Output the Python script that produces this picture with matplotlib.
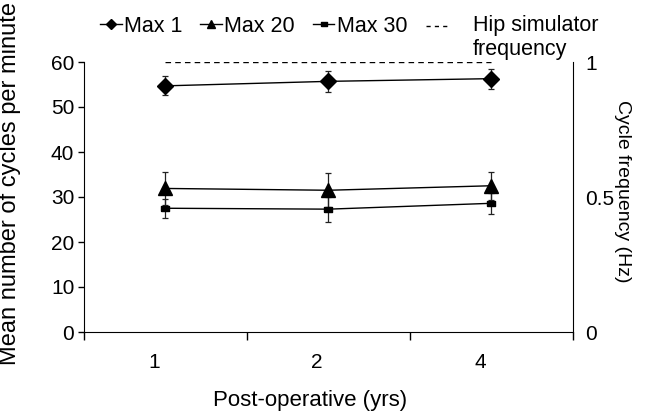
import matplotlib
matplotlib.use('agg')
import matplotlib.pyplot as plt
from matplotlib.lines import Line2D

plt.rcParams['font.family'] = ['Liberation Sans', 'DejaVu Sans']

years = ['1', '2', '4']
x_pos = [1, 2, 3]

max1 = [54.7, 55.7, 56.3]
max1_err = [2.1, 2.4, 2.2]
max20 = [31.9, 31.5, 32.5]
max20_err = [3.7, 3.8, 3.1]
max30 = [27.5, 27.3, 28.6]
max30_err = [2.1, 2.8, 2.4]
hip_freq = [1, 1, 1]

W, H = 649, 417
fig = plt.figure(figsize=(W / 100, H / 100), dpi=100)
ax = fig.add_axes([84 / W, (H - 332) / H, 489 / W, 270 / H])
ax2 = ax.twinx()

rect = [(-1, -0.6), (1, -0.6), (1, 0.6), (-1, 0.6), (-1, -0.6)]
kw = dict(color='black', lw=1.0, ecolor='#222222', elinewidth=0.9, capsize=2.2, capthick=0.9)
ax.errorbar(x_pos, max1, yerr=max1_err, marker='D', ms=8, **kw)
ax.errorbar(x_pos, max20, yerr=max20_err, marker='^', ms=9.5, **kw)
ax.errorbar(x_pos, max30, yerr=max30_err, marker=rect, ms=6, **kw)
ax2.plot(x_pos, hip_freq, color='black', lw=1.0, ls=(0, (4, 3)))

ax.set_xlim(0.5, 3.5)
ax.set_ylim(0, 60)
ax2.set_ylim(0, 1.0)

ax.set_yticks(range(0, 61, 10))
ax.tick_params(axis='y', direction='out', length=4, width=1, labelsize=15, pad=3)
ax.set_xticks([0.5, 1.5, 2.5, 3.5])
ax.set_xticklabels([])
ax.set_xticks([x - 0.07 for x in x_pos], minor=True)
ax.set_xticklabels(years, minor=True)
ax.tick_params(axis='x', which='major', direction='out', length=6, width=1)
ax.tick_params(axis='x', which='minor', length=0, labelsize=15, pad=15)

ax2.set_yticks([0, 0.5, 1])
ax2.set_yticklabels(['0', '0.5', '1'])
ax2.tick_params(axis='y', length=0, labelsize=15, pad=9)

for a in (ax, ax2):
    a.spines['top'].set_visible(False)
ax.spines['right'].set_visible(False)
ax2.spines['left'].set_visible(False)
ax2.spines['bottom'].set_visible(False)

ax.set_ylabel('Mean number of cycles per minute', fontsize=17)
ax.yaxis.set_label_coords(-0.128, 0.55)
fig.text(622 / W, 1 - 191 / H, 'Cycle frequency (Hz)', fontsize=14, rotation=-90,
         ha='center', va='center')
ax.set_xlabel('Post-operative (yrs)', fontsize=16)
ax.xaxis.set_label_coords(0.462, -0.215)

handles = [
    Line2D([], [], color='black', lw=1.0, marker='D', ms=5),
    Line2D([], [], color='black', lw=1.0, marker='^', ms=6),
    Line2D([], [], color='black', lw=1.0, marker=rect, ms=5),
]
labels = ['Max 1', 'Max 20', 'Max 30']
fig.legend(handles, labels, loc='center left', bbox_to_anchor=(100 / W, 1 - 26 / H), ncol=3,
           frameon=False, fontsize=15.5, handlelength=1.0, handletextpad=0.1,
           columnspacing=0.85, borderpad=0, borderaxespad=0)
fig.add_artist(Line2D([426 / W, 450 / W], [1 - 26 / H, 1 - 26 / H], color='black',
                      lw=1.0, ls=(0, (3, 3))))
fig.text(473 / W, 1 - 26 / H, 'Hip simulator', fontsize=15.5, va='center', ha='left')
fig.text(473 / W, 1 - 50 / H, 'frequency', fontsize=15.5, va='center', ha='left')

fig.savefig('out.png', dpi=100)
